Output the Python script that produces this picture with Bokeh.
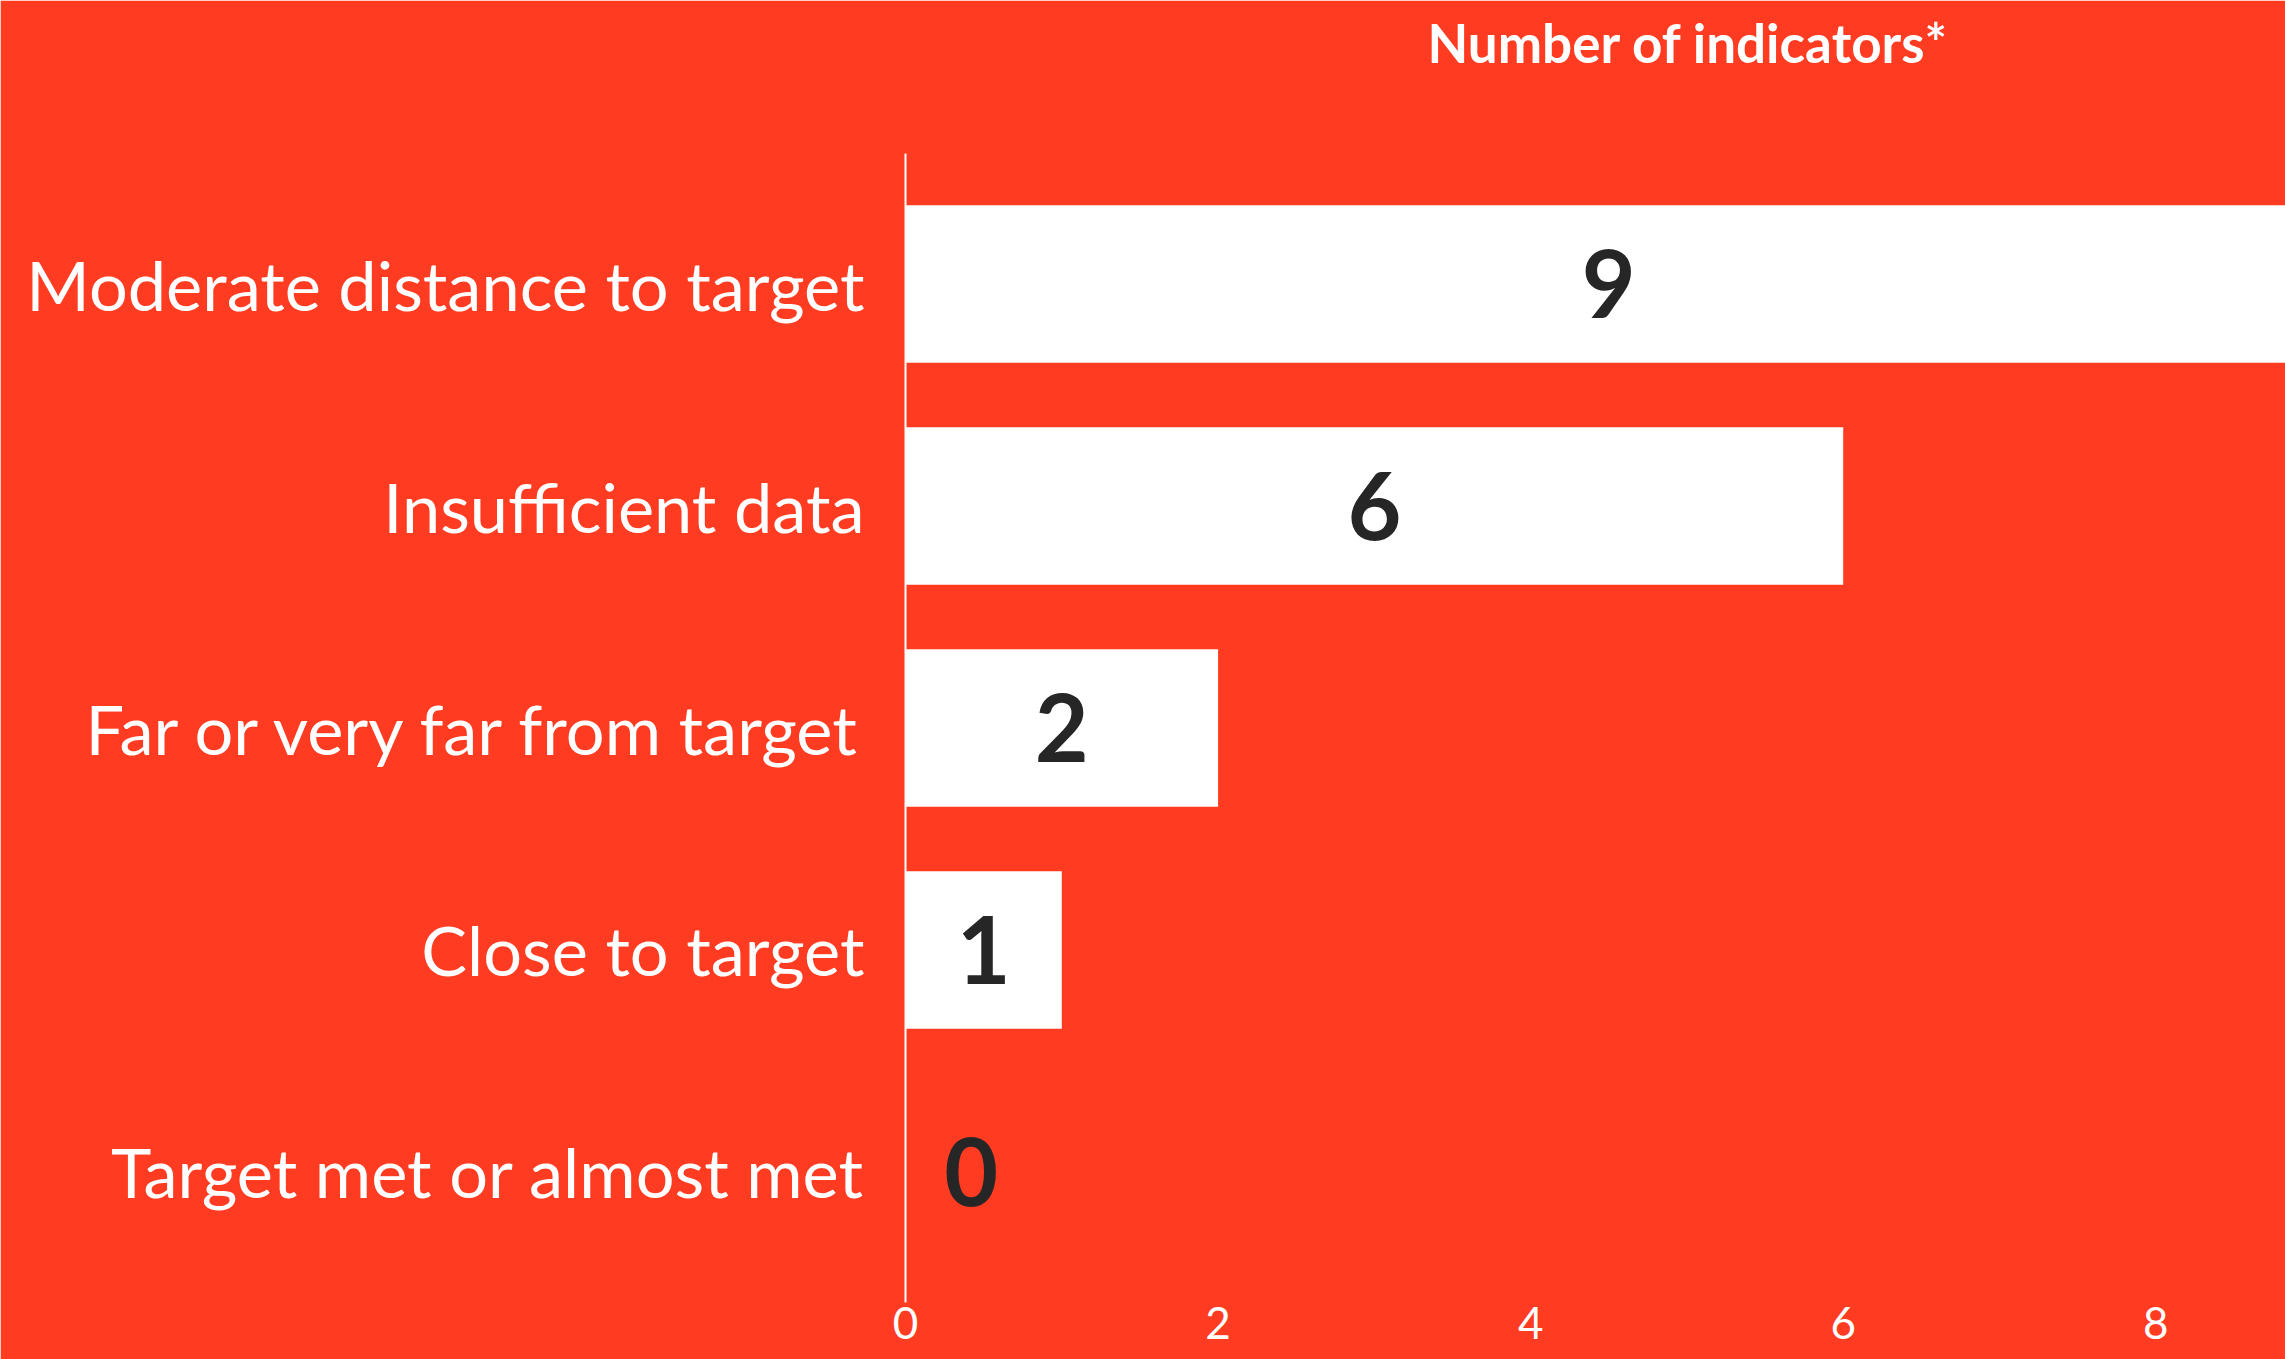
from bokeh.plotting import figure
from bokeh.models import FactorRange, Range1d, FixedTicker, ColumnDataSource
from bokeh.core.properties import value
from bokeh.embed import file_html
from bokeh.resources import INLINE

# ---- data ----
categories = [
    "Target met or almost met",
    "Close to target",
    "Far or very far from target",
    "Insufficient data",
    "Moderate distance to target",
]
counts = [0, 1, 2, 6, 9]
x_ticks = [0, 2, 4, 6, 8]
title_text = "Number of indicators*"

BG = "#FF3C22"
DARK = "#262626"
FONT = "Lato"

label_x = [c / 2 if c > 0 else 0.42 for c in counts]
src = ColumnDataSource(dict(cat=categories, count=counts, lx=label_x,
                            txt=[str(c) for c in counts]))

p = figure(
    width=2285, height=1359,
    y_range=FactorRange(factors=categories, range_padding=0.088,
                        range_padding_units="absolute"),
    x_range=Range1d(0, 8.83),
    output_backend="svg", toolbar_location=None,
    min_border_left=905, min_border_right=0, min_border_top=153,
    min_border_bottom=57,
)
p.background_fill_color = BG
p.border_fill_color = BG
p.outline_line_color = BG
p.outline_line_width = 3
p.xgrid.grid_line_color = None
p.ygrid.grid_line_color = None

# title: a trailing empty line makes the title box tall enough to sit at the top
p.title.text = title_text + "\n"
p.title.text_font = FONT
p.title.text_font_style = "bold"
p.title.text_font_size = "53px"
p.title.text_color = "white"
p.title.align = "left"
p.title.offset = 522
p.title.vertical_align = "top"
p.title.text_line_height = 1.1
p.title.standoff = 18

p.hbar(y="cat", right="count", left=0, height=0.71, source=src,
       fill_color="white", line_color=None)

p.text(x="lx", y="cat", text="txt", source=src,
       text_font=value(FONT), text_font_style="bold", text_font_size="93px",
       text_color=DARK, text_align="center", text_baseline="middle")

# y axis
ya = p.yaxis[0]
ya.axis_line_color = "white"
ya.axis_line_width = 2
ya.major_tick_line_color = None
ya.minor_tick_line_color = None
ya.major_tick_out = 0
ya.major_tick_in = 0
ya.major_label_standoff = 41
ya.major_label_text_font = FONT
ya.major_label_text_font_size = "68.5px"
ya.major_label_text_color = "white"

# x axis
xa = p.xaxis[0]
xa.ticker = FixedTicker(ticks=x_ticks)
xa.axis_line_color = None
xa.major_tick_line_color = None
xa.minor_tick_line_color = None
xa.major_tick_out = 0
xa.major_tick_in = 0
xa.major_label_standoff = 4
xa.major_label_text_font = FONT
xa.major_label_text_font_size = "44px"
xa.major_label_text_color = "white"

html = file_html(p, INLINE)
html = html.replace("<body>", '<body style="background-color:%s;">' % BG, 1)
open("out.html", "w").write(html)
